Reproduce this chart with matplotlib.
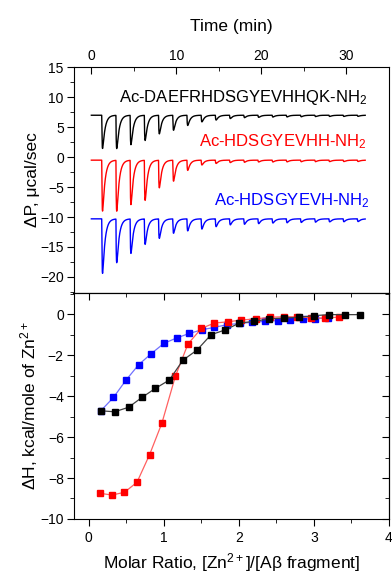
"""ITC of Zn2+ binding to Abeta fragments: raw heat traces and integrated heats."""

import matplotlib

matplotlib.use("Agg")

import matplotlib.pyplot as plt
import numpy as np
from matplotlib.ticker import MultipleLocator

plt.rcParams["font.family"] = ["Liberation Sans", "DejaVu Sans"]
plt.rcParams["mathtext.fontset"] = "custom"
plt.rcParams["mathtext.rm"] = "Liberation Sans"
plt.rcParams["mathtext.it"] = "Liberation Sans:italic"
plt.rcParams["mathtext.default"] = "rm"

# --- raw ITC traces (top panel) ---
trace_end = 32.2
inj_times = [1.22, 2.89, 4.56, 6.23, 7.90, 9.57, 11.24, 12.91, 14.58, 16.25,
             17.92, 19.59, 21.26, 22.93, 24.60, 26.27, 27.94, 29.61, 31.28]

black_base = 7.0
black_peaks = [1.45, 1.45, 2.1, 2.8, 3.9, 4.5, 5.3, 5.9, 6.2, 6.45,
               6.6, 6.65, 6.7, 6.72, 6.75, 6.78, 6.8, 6.8, 6.82]
red_base = -0.5
red_peaks = [-9.0, -9.0, -7.9, -7.2, -5.1, -4.0, -2.2, -1.3, -1.05, -0.9,
             -0.85, -0.8, -0.8, -0.78, -0.76, -0.75, -0.74, -0.73, -0.72]
blue_base = -10.3
blue_peaks = [-19.4, -17.6, -16.05, -14.55, -13.55, -12.7, -12.3, -12.0, -11.6, -11.3,
              -11.2, -11.1, -11.0, -10.95, -10.9, -10.85, -10.8, -10.78, -10.75]

# --- integrated heats (bottom panel) ---
black_ratio = [0.164, 0.347, 0.533, 0.711, 0.889, 1.076, 1.257, 1.444, 1.631, 1.823,
               2.009, 2.2, 2.4, 2.6, 2.8, 3.0, 3.2, 3.41, 3.61]
black_dh = [-4.72, -4.77, -4.55, -4.07, -3.63, -3.22, -2.25, -1.76, -1.01, -0.77,
            -0.44, -0.36, -0.24, -0.20, -0.16, -0.08, -0.03, -0.03, -0.03]
red_ratio = [0.156, 0.311, 0.477, 0.645, 0.813, 0.977, 1.156, 1.324, 1.503, 1.676,
             1.857, 2.036, 2.223, 2.41, 2.6, 2.777, 2.964, 3.147, 3.333]
red_dh = [-8.75, -8.83, -8.7, -8.21, -6.86, -5.32, -3.04, -1.46, -0.70, -0.44,
          -0.38, -0.29, -0.24, -0.16, -0.13, -0.14, -0.18, -0.20, -0.15]
blue_ratio = [0.164, 0.332, 0.5, 0.668, 0.836, 1.004, 1.172, 1.34, 1.508, 1.676,
              1.844, 2.012, 2.18, 2.348, 2.516, 2.684, 2.852, 3.02, 3.188]
blue_dh = [-4.72, -4.07, -3.22, -2.47, -1.93, -1.43, -1.17, -0.95, -0.77, -0.65,
           -0.52, -0.46, -0.40, -0.36, -0.32, -0.28, -0.25, -0.22, -0.20]

labels = ["Ac-DAEFRHDSGYEVHHQK-NH$_2$", "Ac-HDSGYEVHH-NH$_2$", "Ac-HDSGYEVH-NH$_2$"]


def _trace(t, base, peaks):
    # spike shape: fast drop, exponential return to baseline
    y = np.full_like(t, base)
    s_ref = np.linspace(0, 3, 2000)
    ref = (1 - np.exp(-s_ref / 0.05)) * np.exp(-s_ref / 0.28)
    norm = ref.max()
    for t0, p in zip(inj_times, peaks):
        s = t - t0
        m = s >= 0
        y[m] -= (base - p) * (1 - np.exp(-s[m] / 0.05)) * np.exp(-s[m] / 0.28) / norm
    return y


fig = plt.figure(figsize=(3.92, 5.75), dpi=100)
ax1 = fig.add_axes([0.1875, 0.4913, 0.8048, 0.3916])
ax2 = fig.add_axes([0.1875, 0.0974, 0.8048, 0.3939])

t = np.linspace(0, trace_end, 4000)
ax1.plot(t, _trace(t, black_base, black_peaks), color="black", lw=1.0)
ax1.plot(t, _trace(t, red_base, red_peaks), color="#ff0000", lw=1.0)
ax1.plot(t, _trace(t, blue_base, blue_peaks), color="#0000ff", lw=1.0)

ax1.text(32.4, 10.0, labels[0], color="black", fontsize=12, ha="right", va="center")
ax1.text(32.4, 2.55, labels[1], color="#ff0000", fontsize=12, ha="right", va="center")
ax1.text(32.8, -7.2, labels[2], color="#0000ff", fontsize=12, ha="right", va="center")

ax1.set_xlim(-2.1, 35)
ax1.set_ylim(-22.6, 15)
ax1.xaxis.tick_top()
ax1.xaxis.set_label_position("top")
ax1.xaxis.set_major_locator(MultipleLocator(10))
ax1.xaxis.set_minor_locator(MultipleLocator(5))
ax1.yaxis.set_major_locator(MultipleLocator(5))
ax1.yaxis.set_minor_locator(MultipleLocator(2.5))
ax1.tick_params(axis="x", which="both", direction="in", labelsize=10, pad=3)
ax1.tick_params(axis="x", which="major", length=5)
ax1.tick_params(axis="x", which="minor", length=3)
ax1.tick_params(axis="y", which="both", direction="out", labelsize=10, pad=2)
ax1.tick_params(axis="y", which="major", length=5)
ax1.tick_params(axis="y", which="minor", length=3)
ax1.set_xlabel("Time (min)", fontsize=12.5, labelpad=13)
ax1.set_ylabel("ΔP, μcal/sec", fontsize=12.5, labelpad=0)

# bottom panel: blue first so red and black sit on top
ax2.plot(blue_ratio, blue_dh, color="#7070ff", lw=0.9, marker="s", ms=5,
         mfc="#0000ff", mec="#0000ff")
ax2.plot(red_ratio, red_dh, color="#ff6060", lw=0.9, marker="s", ms=5,
         mfc="#ff0000", mec="#ff0000")
ax2.plot(black_ratio, black_dh, color="#404040", lw=0.9, marker="s", ms=5,
         mfc="black", mec="black")

ax2.set_xlim(-0.2, 4)
ax2.set_ylim(-10, 1.05)
ax2.xaxis.set_major_locator(MultipleLocator(1))
ax2.xaxis.set_minor_locator(MultipleLocator(0.5))
ax2.yaxis.set_major_locator(MultipleLocator(2))
ax2.yaxis.set_minor_locator(MultipleLocator(1))
ax2.tick_params(which="both", direction="out", labelsize=10)
ax2.tick_params(which="major", length=5)
ax2.tick_params(which="minor", length=3)
ax2.tick_params(axis="y", pad=2)
ax2.tick_params(axis="x", pad=4)

top = ax2.secondary_xaxis("top")
top.xaxis.set_major_locator(MultipleLocator(1))
top.xaxis.set_minor_locator(MultipleLocator(0.5))
top.tick_params(which="both", direction="in", labeltop=False)
top.tick_params(which="major", length=5)
top.tick_params(which="minor", length=3)
right = ax2.secondary_yaxis("right")
right.yaxis.set_major_locator(MultipleLocator(2))
right.yaxis.set_minor_locator(MultipleLocator(1))
right.tick_params(which="both", direction="in", labelright=False)
right.tick_params(which="major", length=5)
right.tick_params(which="minor", length=3)

ax2.set_xlabel("Molar Ratio, [Zn$^{2+}$]/[Aβ fragment]", fontsize=12.5, labelpad=4)
ax2.set_ylabel("ΔH, kcal/mole of Zn$^{2+}$", fontsize=12.5, labelpad=0)
fig.align_ylabels([ax1, ax2])

fig.savefig("out.png", dpi=100)
